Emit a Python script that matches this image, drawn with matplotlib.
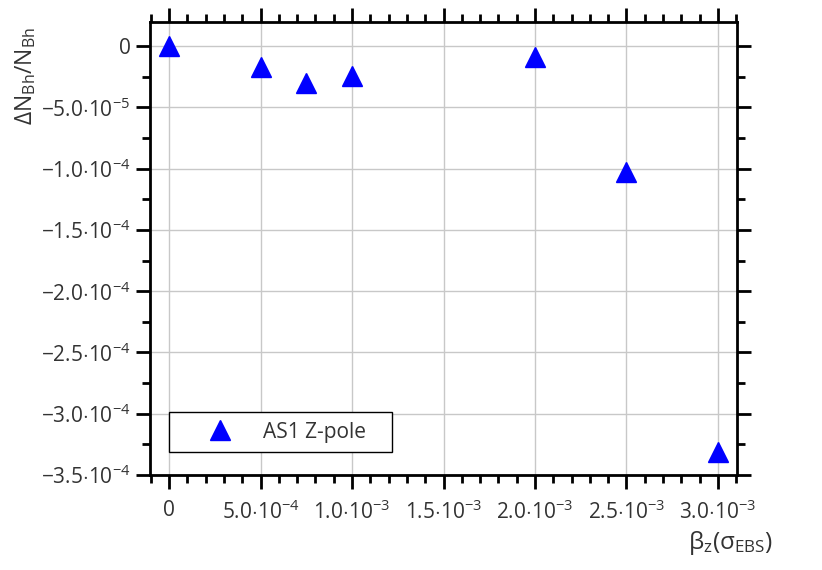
import matplotlib.pyplot as plt
from matplotlib.patches import Rectangle
from matplotlib.ticker import MultipleLocator, FuncFormatter

plt.rcParams['font.family'] = ['Open Sans', 'DejaVu Sans']
plt.rcParams['mathtext.fontset'] = 'custom'
plt.rcParams['mathtext.rm'] = 'Open Sans'
plt.rcParams['mathtext.it'] = 'Open Sans:italic'
plt.rcParams['mathtext.bf'] = 'Open Sans:bold'

# data
beta_z = [0.0, 5.0e-4, 7.5e-4, 1.0e-3, 2.0e-3, 2.5e-3, 3.0e-3]
dn_over_n = [-1e-7, -1.68e-5, -2.97e-5, -2.43e-5, -8.8e-6, -1.03e-4, -3.31e-4]
series_label = "AS1 Z-pole"

TXT = "#333333"


def sci_fmt(v, pos):
    if abs(v) < 1e-12:
        return "0"
    exp = int(f"{v:e}".split("e")[1])
    mant = v / 10**exp
    sign = "\u2212" if mant < 0 else ""
    return r"$\mathrm{%s%.1f{\cdot}10^{%s}}$" % (sign, abs(mant), "\u2212" + str(-exp) if exp < 0 else str(exp))


fig = plt.figure(figsize=(8.22, 5.70), dpi=100)
ax = fig.add_axes([150/822, 1 - 475/570, 587/822, 453/570])

ax.plot(beta_z, dn_over_n, linestyle="none", marker="^", markersize=14,
        color="#0000ff", label=series_label, zorder=3)

ax.set_xlim(-1.04e-4, 3.104e-3)
ax.set_ylim(-3.5e-4, 1.97e-5)

ax.xaxis.set_major_locator(MultipleLocator(5e-4))
ax.xaxis.set_minor_locator(MultipleLocator(1e-4))
ax.yaxis.set_major_locator(MultipleLocator(5e-5))
ax.yaxis.set_minor_locator(MultipleLocator(2.5e-5))
ax.xaxis.set_major_formatter(FuncFormatter(sci_fmt))
ax.yaxis.set_major_formatter(FuncFormatter(sci_fmt))

ax.grid(True, which="major", color="#c8c8c8", linewidth=1.0, zorder=0)
ax.set_axisbelow(True)

for s in ax.spines.values():
    s.set_linewidth(2.0)
    s.set_color("black")

ax.tick_params(which="both", direction="out", top=True, right=True,
               width=2.0, color="black", labelsize=15, labelcolor=TXT)
ax.tick_params(which="major", length=10)
ax.tick_params(which="minor", length=6)
ax.tick_params(axis="x", which="major", pad=8)
ax.tick_params(axis="y", which="major", pad=4)

# legend: entries without frame, box drawn separately to match the wide frame
leg = ax.legend(loc="center left", bbox_to_anchor=(0.0835, 0.0949), frameon=False,
                fontsize=15, handlelength=2.0, handletextpad=1.08,
                borderpad=0, borderaxespad=0)
for t in leg.get_texts():
    t.set_color(TXT)
ax.add_patch(Rectangle((0.0324, 0.0508), 0.380, 0.0883, transform=ax.transAxes,
                       facecolor="white", edgecolor="black", linewidth=1.0, zorder=4))
leg.set_zorder(5)

fig.text(26/822, 1 - 27/570, r"$\mathrm{\Delta N_{Bh}/N_{Bh}}$", rotation=90,
         ha="center", va="top", fontsize=16.5, color=TXT)
fig.text(773/822, 1 - 543/570, r"$\mathrm{\beta_z(\sigma_{EBS})}$",
         ha="right", va="center", fontsize=17.5, color=TXT)

plt.savefig("out.png", dpi=100)
